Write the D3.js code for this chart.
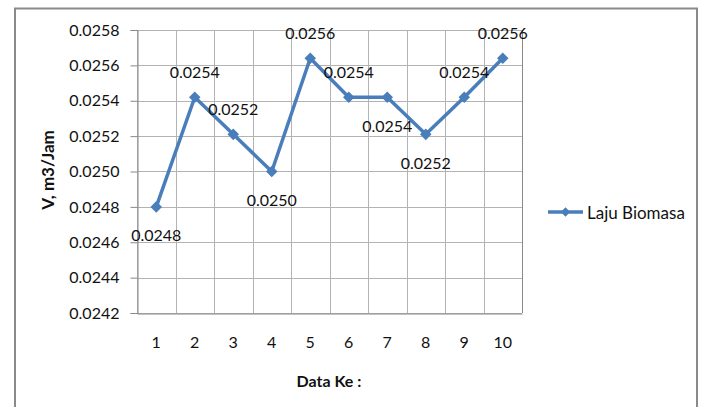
<!DOCTYPE html>
<html><head><meta charset="utf-8">
<script src="https://cdn.jsdelivr.net/npm/d3@7"></script>
<style>
html,body{margin:0;padding:0;background:#fff;}
svg{display:block;}
text{font-family:Lato,"Open Sans",sans-serif;fill:#111;}
</style></head>
<body>
<script>
const categories = ["1","2","3","4","5","6","7","8","9","10"];
const values = [0.0248, 0.02542, 0.02521, 0.0250, 0.02564, 0.02542, 0.02542, 0.02521, 0.02542, 0.02564];
const valueLabels = ["0.0248","0.0254","0.0252","0.0250","0.0256","0.0254","0.0254","0.0252","0.0254","0.0256"];
const yTicks = [0.0242,0.0244,0.0246,0.0248,0.0250,0.0252,0.0254,0.0256,0.0258];
const seriesName = "Laju Biomasa";
const xTitle = "Data Ke :";
const yTitle = "V, m3/Jam";

const labelSide = ["below","above","above","below","above","above","below","below","above","above"];

const W = 702, H = 407;
const svg = d3.select("body").append("svg").attr("width", W).attr("height", H);
const blue = "#4a7ebb";

// outer frame
svg.append("rect").attr("x", 15).attr("y", 8.5).attr("width", 682).attr("height", 420)
  .attr("fill", "#fff").attr("stroke", "#8a8a8a").attr("stroke-width", 2);

const L = 137, R = 522, T = 30, B = 313;
const x = d3.scaleBand().domain(categories).range([L, R]).padding(0);
const y = d3.scaleLinear().domain([0.0242, 0.0258]).range([B, T]);

// horizontal gridlines
svg.append("g").selectAll("line").data(yTicks).join("line")
  .attr("x1", L).attr("x2", R).attr("y1", d => Math.round(y(d)) + 0.5).attr("y2", d => Math.round(y(d)) + 0.5)
  .attr("stroke", "#b3b3b3").attr("stroke-width", 1);
// vertical gridlines at category boundaries
const bounds = categories.map(c => x(c)).concat([R]);
svg.append("g").selectAll("line").data(bounds).join("line")
  .attr("x1", d => Math.round(d) + 0.5).attr("x2", d => Math.round(d) + 0.5).attr("y1", T).attr("y2", B)
  .attr("stroke", "#b3b3b3").attr("stroke-width", 1);

// axes
const yAxis = d3.axisLeft(y).tickValues(yTicks).tickSize(7).tickPadding(11).tickFormat(d3.format(".4f"));
const gy = svg.append("g").attr("transform", `translate(${L + 0.5},0)`).call(yAxis);
gy.select(".domain").attr("stroke", "#888");
gy.selectAll(".tick line").attr("stroke", "#888");
gy.selectAll("text").style("font-size", "16px").attr("fill", "#111");

const xAxis = d3.axisBottom(x).tickSize(0).tickPadding(23);
const gx = svg.append("g").attr("transform", `translate(0,${B + 0.5})`).call(xAxis);
gx.select(".domain").attr("stroke", "#888");
gx.selectAll("text").style("font-size", "16px").attr("fill", "#111");

// right plot border
svg.append("line").attr("x1", R + 0.5).attr("x2", R + 0.5).attr("y1", T).attr("y2", B).attr("stroke", "#888");

// line
const line = d3.line().x((d, i) => x(categories[i]) + x.bandwidth() / 2).y(d => y(d));
svg.append("path").datum(values).attr("d", line).attr("fill", "none")
  .attr("stroke", blue).attr("stroke-width", 3.5).attr("stroke-linejoin", "round");

const diamond = d3.symbol().type(d3.symbolDiamond2).size(85);
svg.append("g").selectAll("path").data(values).join("path")
  .attr("transform", (d, i) => `translate(${x(categories[i]) + x.bandwidth() / 2},${y(d)})`)
  .attr("d", diamond).attr("fill", blue);

// data labels
svg.append("g").selectAll("text").data(values).join("text")
  .attr("x", (d, i) => x(categories[i]) + x.bandwidth() / 2)
  .attr("y", (d, i) => y(d) + (labelSide[i] === "above" ? -26 : 28))
  .attr("text-anchor", "middle").attr("dominant-baseline", "central")
  .style("font-size", "16px")
  .text((d, i) => valueLabels[i]);

// axis titles
svg.append("text").attr("x", 329).attr("y", 380).attr("text-anchor", "middle")
  .attr("dominant-baseline", "central").style("font-size", "16px").style("font-weight", "bold").text(xTitle);
svg.append("text").attr("transform", `translate(47,170) rotate(-90)`).attr("text-anchor", "middle")
  .attr("dominant-baseline", "central").style("font-size", "17px").style("font-weight", "bold").text(yTitle);

// legend
const lg = svg.append("g").attr("transform", "translate(548,212)");
lg.append("line").attr("x1", 0).attr("x2", 35).attr("y1", 0).attr("y2", 0).attr("stroke", blue).attr("stroke-width", 3.5);
lg.append("path").attr("transform", "translate(17.5,0)").attr("d", d3.symbol().type(d3.symbolDiamond2).size(55)).attr("fill", blue);
lg.append("text").attr("x", 39).attr("y", 0).attr("dominant-baseline", "central").style("font-size", "17px").text(seriesName);
</script>
</body></html>
